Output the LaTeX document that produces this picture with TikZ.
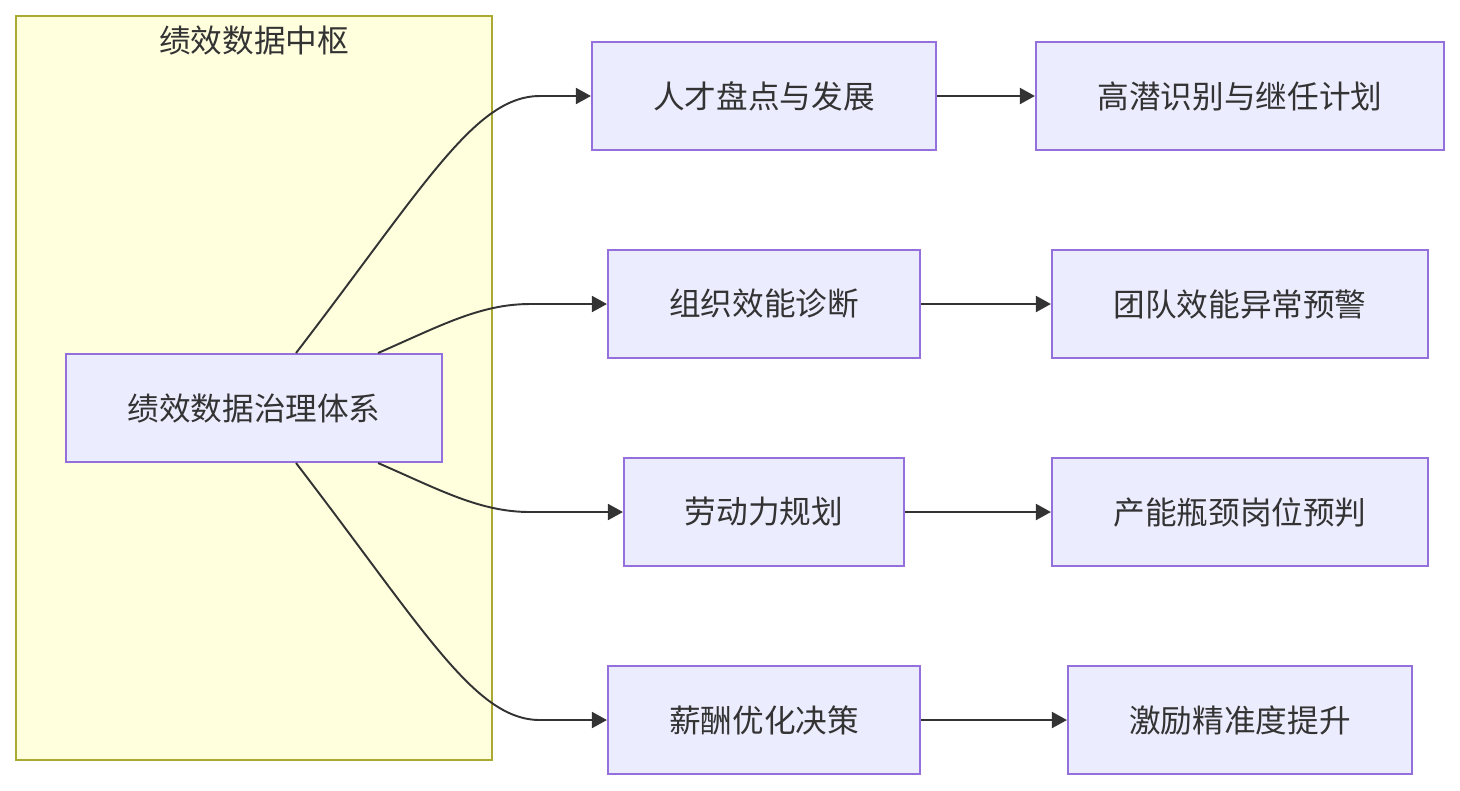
\documentclass[tikz,border=0pt]{standalone}
\usepackage{fontspec}
\setmainfont{Noto Sans CJK SC}
\usepackage{xcolor}
\usetikzlibrary{arrows.meta}
\definecolor{PDHubFill}{HTML}{FFFFDE}
\definecolor{PDHubLine}{HTML}{AAAA33}
\definecolor{PDNodeFill}{HTML}{ECECFF}
\definecolor{PDNodeLine}{HTML}{9370DB}
\definecolor{PDText}{HTML}{333333}
\tikzset{
  pdbox/.style={draw=PDNodeLine,fill=PDNodeFill,line width=0.55pt,text=PDText,
    minimum height=1.08cm,inner sep=0pt,font=\fontsize{9}{11}\selectfont},
  pdlink/.style={draw=PDText,line width=0.55pt,-{Triangle[length=1.5mm,width=1.6mm]}}
}

\begin{document}
\begin{tikzpicture}[x=0.01cm,y=-0.01cm]
\path[use as bounding box] (0,0) rectangle (1460,790);
% cluster
\draw[PDHubLine,fill=PDHubFill,line width=0.55pt] (16,16) rectangle (492,760);
\node[text=PDText,font=\fontsize{9}{11}\selectfont] (hub) at (254,40) {绩效数据中枢};
\node[pdbox,minimum width=3.76cm] (gov) at (254,408) {绩效数据治理体系};
% second column
\node[pdbox,minimum width=3.44cm] (talent) at (764,96) {人才盘点与发展};
\node[pdbox,minimum width=3.12cm] (org) at (764,304) {组织效能诊断};
\node[pdbox,minimum width=2.80cm] (labor) at (764,512) {劳动力规划};
\node[pdbox,minimum width=3.12cm] (pay) at (764,720) {薪酬优化决策};
% third column
\node[pdbox,minimum width=4.08cm] (succ) at (1240,96) {高潜识别与继任计划};
\node[pdbox,minimum width=3.76cm] (alert) at (1240,304) {团队效能异常预警};
\node[pdbox,minimum width=3.76cm] (neck) at (1240,512) {产能瓶颈岗位预判};
\node[pdbox,minimum width=3.44cm] (incent) at (1240,720) {激励精准度提升};
% links from the hub node
\draw[pdlink] ([xshift=0.42cm]gov.north) .. controls (425,185) and (475,96) .. (540,96) -- (talent.west);
\draw[pdlink] ([xshift=1.24cm]gov.north) .. controls (440,326) and (480,304) .. (530,304) -- (org.west);
\draw[pdlink] ([xshift=1.24cm]gov.south) .. controls (440,490) and (480,512) .. (530,512) -- (labor.west);
\draw[pdlink] ([xshift=0.42cm]gov.south) .. controls (425,631) and (475,720) .. (540,720) -- (pay.west);
% links to the outcomes
\draw[pdlink] (talent) -- (succ);
\draw[pdlink] (org) -- (alert);
\draw[pdlink] (labor) -- (neck);
\draw[pdlink] (pay) -- (incent);
\end{tikzpicture}
\end{document}
